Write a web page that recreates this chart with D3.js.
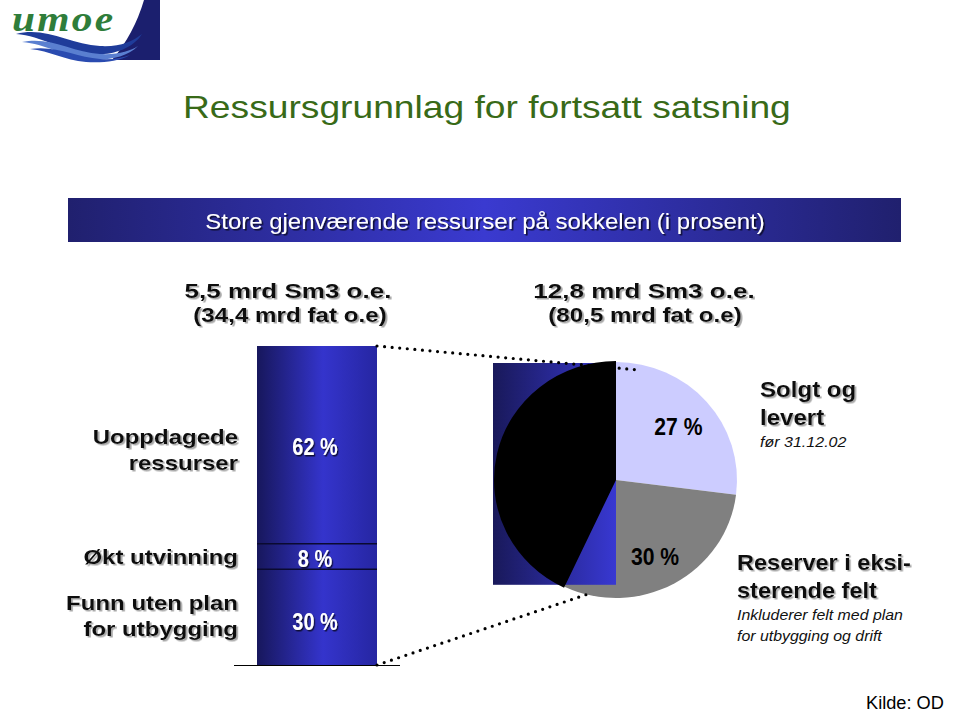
<!DOCTYPE html>
<html><head><meta charset="utf-8">
<script src="https://cdn.jsdelivr.net/npm/d3@7/dist/d3.min.js"></script>
<style>html,body{margin:0;padding:0;background:#fff;}svg{display:block;}</style>
</head><body>
<script>
// ---------- DATA ----------
const titleText = "Ressursgrunnlag for fortsatt satsning";
const bannerText = "Store gjenværende ressurser på sokkelen (i prosent)";
const barCategories = ["Funn uten plan for utbygging", "Økt utvinning", "Uoppdagede ressurser"];
const barCategoryLines = [["Funn uten plan", "for utbygging"], ["Økt utvinning"], ["Uoppdagede", "ressurser"]];
const barValues = [30, 8, 62];
const barValueLabels = ["30 %", "8 %", "62 %"];
const pieCategories = ["Solgt og levert", "Reserver i eksisterende felt", "Gjenværende ressurser"];
const pieValues = [27, 30, 43];
const pieValueLabels = ["27 %", "30 %", ""];
const volumeLines = [["5,5 mrd Sm3 o.e.", "(34,4 mrd fat o.e)"], ["12,8 mrd Sm3 o.e.", "(80,5 mrd fat o.e)"]];
const pieNoteTitles = [["Solgt og", "levert"], ["Reserver i eksi-", "sterende felt"]];
const pieNoteTexts = [["før 31.12.02"], ["Inkluderer felt med plan", "for utbygging og drift"]];
const sourceText = "Kilde: OD";

// ---------- LAYOUT / STYLE ----------
const W = 960, H = 712;
const SANS = "'Liberation Sans', Arial, Helvetica, sans-serif";
const pieColors = ["#ccccff", "#808080", "#000000"];

const svg = d3.select("body").append("svg").attr("width", W).attr("height", H);
svg.append("rect").attr("width", W).attr("height", H).attr("fill", "#fff");
const defs = svg.append("defs");

function linGrad(id, stops) {
  const g = defs.append("linearGradient").attr("id", id).attr("x1", "0%").attr("x2", "100%").attr("y1", "0%").attr("y2", "0%");
  stops.forEach(s => g.append("stop").attr("offset", s[0]).attr("stop-color", s[1]));
}
linGrad("barGrad", [[0, "#17175c"], [0.55, "#3434cc"], [1, "#2626a2"]]);
linGrad("bannerGrad", [[0, "#20206e"], [0.5, "#3a3ad0"], [1, "#20206e"]]);
linGrad("rectGrad", [[0, "#19195a"], [1, "#3838d2"]]);

function shadow(id, color, op) {
  const f = defs.append("filter").attr("id", id).attr("x", "-10%").attr("y", "-30%").attr("width", "130%").attr("height", "170%");
  f.append("feDropShadow").attr("dx", 1.5).attr("dy", 1.5).attr("stdDeviation", 0.6)
    .attr("flood-color", color).attr("flood-opacity", op);
}
shadow("shGray", "#8a8a8a", 0.75);
shadow("shDark", "#000", 0.7);

function addText(x, y, lines, st) {
  const g = svg.append("g").attr("transform", `translate(${x},${y}) scale(${st.sx || 1},1)`);
  const t = g.append("text")
    .attr("text-anchor", st.anchor || "start")
    .style("font-family", st.family || SANS)
    .style("font-size", st.size + "px")
    .style("font-weight", st.weight || "normal")
    .style("font-style", st.italic ? "italic" : "normal")
    .attr("fill", st.fill || "#000");
  if (st.filter) t.attr("filter", `url(#${st.filter})`);
  lines.forEach((l, i) => t.append("tspan").attr("x", 0).attr("y", i * (st.lh || 0)).text(l));
  return t;
}

// ---------- LOGO ----------
const logo = svg.append("g");
logo.append("path").attr("d", "M144,0 L160,0 L160,60 L112,60 Q134,34 144,0 Z").attr("fill", "#1b1f6e");
logo.append("path").attr("d", "M16,34 C45,26 70,44 100,46 C120,47 132,42 142,34 C132,50 110,56 90,54 C62,51 42,36 16,34 Z").attr("fill", "#1f3c9a");
logo.append("path").attr("d", "M22,42 C50,36 72,52 100,54 C118,55 130,51 138,46 C126,58 106,61 88,59 C62,56 46,44 22,42 Z").attr("fill", "#5a7fd0");
logo.append("path").attr("d", "M30,49 C56,45 76,57 100,59 C112,60 122,58 130,55 C118,62 100,63 86,62 C64,60 50,51 30,49 Z").attr("fill", "#2a4bb0");
addText(12, 31, ["umoe"], { size: 36, weight: "bold", italic: true, family: "'Liberation Serif', 'DejaVu Serif', serif", fill: "#2f7d3a", sx: 1.15 })
  .style("letter-spacing", "2px");

// ---------- TITLE & BANNER ----------
addText(183, 118, [titleText], { size: 31, fill: "#386a18", sx: 1.2 });
svg.append("rect").attr("x", 68).attr("y", 198).attr("width", 833).attr("height", 44).attr("fill", "url(#bannerGrad)");
addText(485, 229, [bannerText], { size: 22, fill: "#fff", anchor: "middle", sx: 1.09, filter: "shDark" });

// ---------- HEADERS ----------
const headerX = [[288, 290], [644, 645]];
volumeLines.forEach((ls, i) => {
  addText(headerX[i][0], 298, [ls[0]], { size: 21, weight: "bold", anchor: "middle", sx: 1.24, fill: "#111", filter: "shGray" });
  addText(headerX[i][1], 322, [ls[1]], { size: 19.5, weight: "bold", anchor: "middle", sx: 1.24, fill: "#111", filter: "shGray" });
});

// ---------- STACKED BAR ----------
const barX0 = 257, barX1 = 377;
const yBar = d3.scaleLinear().domain([0, 100]).range([665, 346]);
const row = {};
barCategories.forEach((c, i) => row[c] = barValues[i]);
const stacked = d3.stack().keys(barCategories)([row]);

svg.append("g").selectAll("rect").data(stacked).join("rect")
  .attr("x", barX0).attr("width", barX1 - barX0)
  .attr("y", d => yBar(d[0][1])).attr("height", d => yBar(d[0][0]) - yBar(d[0][1]))
  .attr("fill", "url(#barGrad)");
svg.append("g").selectAll("line").data(stacked.slice(0, -1)).join("line")
  .attr("x1", barX0).attr("x2", barX1)
  .attr("y1", d => yBar(d[0][1])).attr("y2", d => yBar(d[0][1]))
  .attr("stroke", "#0a0a30").attr("stroke-width", 1.5);
svg.append("line").attr("x1", 234).attr("x2", 400).attr("y1", yBar(0) + 0.5).attr("y2", yBar(0) + 0.5)
  .attr("stroke", "#000").attr("stroke-width", 1);

const barLabelNudge = [-14, 0, -8];
stacked.forEach((d, i) => {
  const mid = (yBar(d[0][0]) + yBar(d[0][1])) / 2;
  addText((barX0 + barX1) / 2 - 2, mid + 10 + (i === 0 ? 3 : 0), [barValueLabels[i]],
    { size: 24, weight: "bold", fill: "#fff", anchor: "middle", sx: 0.83, filter: "shDark" });
  const lines = barCategoryLines[i];
  addText(238, mid + 7 + barLabelNudge[i], lines,
    { size: 20, weight: "bold", anchor: "end", sx: 1.2, lh: 26, fill: "#111", filter: "shGray" });
});

// ---------- PIE ----------
const pc = { x: 616, y: 480 }, R = 121, squash = 0.975;
const pieData = d3.pie().sort(null).value(d => d)(pieValues);
const arc = d3.arc().innerRadius(0).outerRadius(R);
const gPie = svg.append("g").attr("transform", `translate(${pc.x},${pc.y}) scale(1,${squash})`);
gPie.selectAll("path.front").data(pieData.slice(0, 2)).join("path").attr("class", "front")
  .attr("d", arc).attr("fill", (d, i) => pieColors[i]);
const blackStart = pieData[2].startAngle;
const rectBottom = -Math.cos(blackStart) * R - 2;
gPie.append("rect").attr("x", -R - 2).attr("y", -R + 1).attr("width", R + 2).attr("height", rectBottom + R - 1)
  .attr("fill", "url(#rectGrad)");
gPie.append("path").datum(pieData[2]).attr("d", d3.arc().innerRadius(0).outerRadius(R + 1)).attr("fill", pieColors[2]);

const labelArc = d3.arc().innerRadius(R * 0.72).outerRadius(R * 0.72);
pieData.forEach((d, i) => {
  if (!pieValueLabels[i]) return;
  const c = labelArc.centroid(d);
  addText(pc.x + c[0] - 3, pc.y + c[1] * squash + 11, [pieValueLabels[i]],
    { size: 23, weight: "bold", anchor: "middle", sx: 0.92, fill: "#000" });
});

// ---------- CONNECTORS ----------
const connectorTargets = [{ a: 10.6, r: 0.95, from: yBar(100) }, { a: 194, r: 1.0, from: yBar(0) }];
connectorTargets.forEach(t => {
  const a = t.a * Math.PI / 180;
  const tx = pc.x + Math.sin(a) * R * t.r, ty = pc.y - Math.cos(a) * R * t.r * squash;
  svg.append("path").attr("d", d3.line()([[barX1, t.from], [tx, ty]]))
    .attr("stroke", "#000").attr("stroke-width", 3.2).attr("stroke-linecap", "round")
    .attr("stroke-dasharray", "0 7.6").attr("fill", "none");
});

// ---------- PIE NOTES ----------
addText(760, 397, pieNoteTitles[0], { size: 21.5, weight: "bold", sx: 1.12, lh: 28, fill: "#111", filter: "shGray" });
addText(760, 447, pieNoteTexts[0], { size: 15, italic: true, sx: 1.07, fill: "#111" });
addText(737, 570, pieNoteTitles[1], { size: 22, weight: "bold", sx: 1.07, lh: 28, fill: "#111", filter: "shGray" });
addText(737, 620, pieNoteTexts[1], { size: 15, italic: true, sx: 1.06, lh: 21, fill: "#111" });

// ---------- SOURCE ----------
addText(866, 709, [sourceText], { size: 17.5, sx: 1.04, fill: "#000" });
</script>
</body></html>
